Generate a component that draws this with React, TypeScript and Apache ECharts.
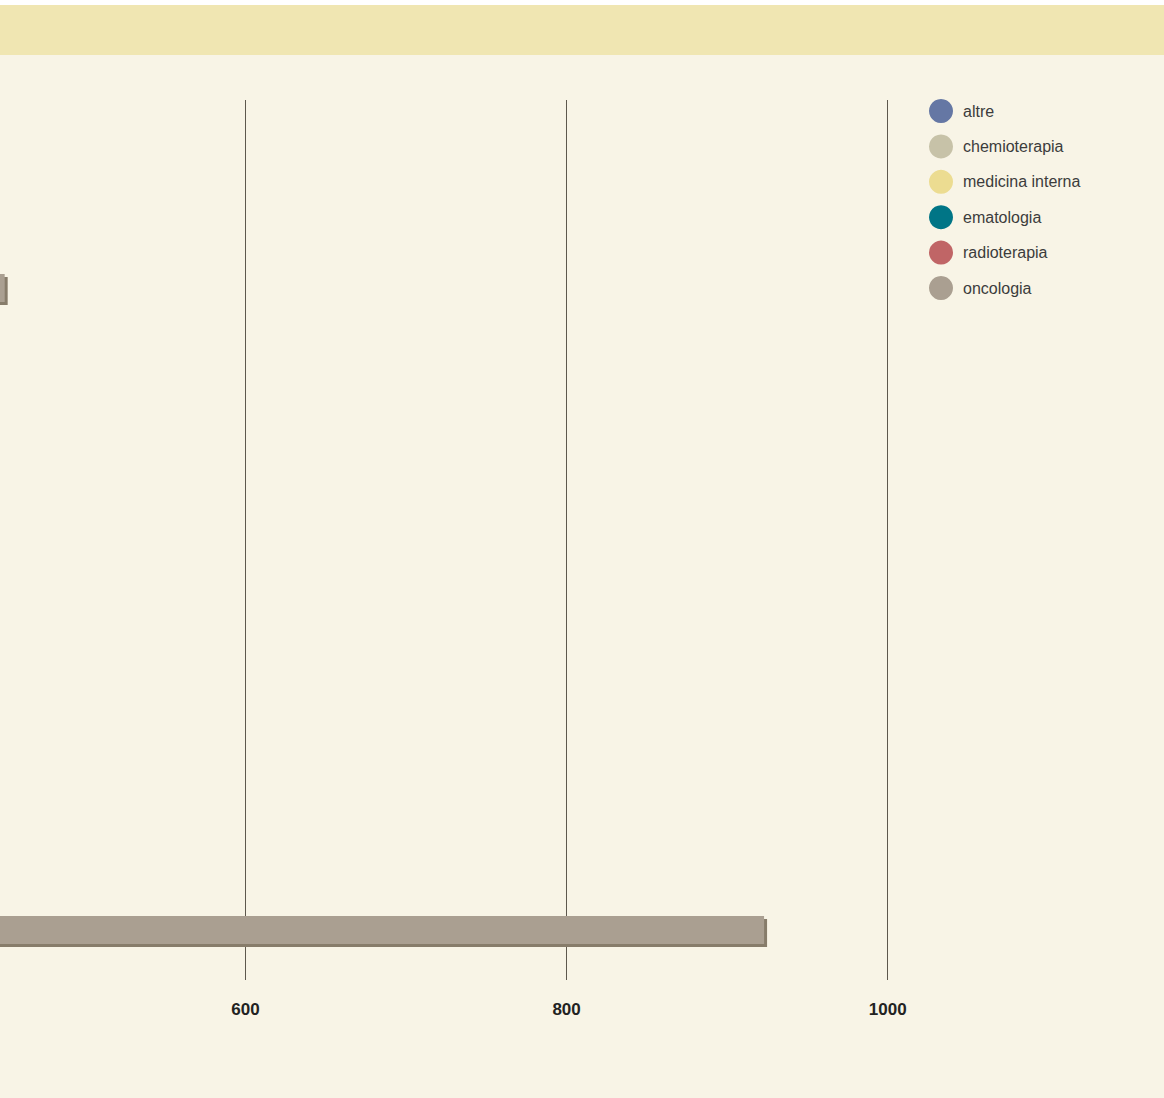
import React, { useEffect, useRef } from "react";
import * as echarts from "echarts";

// Row categories (their labels lie outside the visible crop)
const categories = ["1", "2", "3", "4", "5", "6", "7", "8"];

const seriesNames = ["altre", "chemioterapia", "medicina interna", "ematologia", "radioterapia", "oncologia"];
const seriesColors = ["#6577a4", "#c7c2a8", "#ecdc91", "#007586", "#c06566", "#aa9f91"];

// Only the oncologia bars reach the visible part of the axis
const altre: (number | null)[] = [null, null, null, null, null, null, null, null];
const chemioterapia: (number | null)[] = [null, null, null, null, null, null, null, null];
const medicinaInterna: (number | null)[] = [null, null, null, null, null, null, null, null];
const ematologia: (number | null)[] = [null, null, null, null, null, null, null, null];
const radioterapia: (number | null)[] = [null, null, null, null, null, null, null, null];
const oncologia: (number | null)[] = [null, 450, null, null, null, null, null, 923];

const seriesData = [altre, chemioterapia, medicinaInterna, ematologia, radioterapia, oncologia];

const xMin = 400;
const xMax = 1000;
const xInterval = 200;

const SHIFT = 76; // the chart extends beyond the left edge of the visible crop
const W = 1164 + SHIFT;
const H = 1098;

export default function App() {
  const ref = useRef<HTMLDivElement>(null);

  useEffect(() => {
    if (!ref.current) return;
    const chart = echarts.init(ref.current, undefined, { renderer: "svg" });
    const font = "'Liberation Sans', Arial, sans-serif";
    chart.setOption({
      animation: false,
      backgroundColor: "#f8f4e6",
      textStyle: { fontFamily: font },
      graphic: [
        { type: "rect", left: 0, top: 0, shape: { width: W, height: 5 }, style: { fill: "#ffffff" }, silent: true },
        { type: "rect", left: 0, top: 5, shape: { width: W, height: 50 }, style: { fill: "#f0e6b2" }, silent: true },
      ],
      legend: {
        data: seriesNames,
        orient: "vertical",
        left: 929 + SHIFT,
        top: 99,
        padding: 0,
        icon: "circle",
        itemWidth: 24,
        itemHeight: 24,
        itemGap: 11.4,
        selectedMode: false,
        textStyle: { fontFamily: font, fontSize: 16, color: "#3c3c3c", padding: [0, 0, 0, 5] },
      },
      grid: [
        { left: 0.4, right: 276.3, top: 100, bottom: 118, containLabel: false },
        { left: 0.4, right: 276.3, top: 127.5, height: 856, containLabel: false },
      ],
      xAxis: [
        {
          gridIndex: 0,
          type: "value",
          min: xMin,
          max: xMax,
          interval: xInterval,
          axisLine: { show: false },
          axisTick: { show: false },
          splitLine: { show: true, lineStyle: { color: "#5e584d", width: 1 } },
          axisLabel: {
            showMinLabel: false,
            margin: 21,
            fontFamily: font,
            fontSize: 17,
            fontWeight: "bold",
            color: "#222222",
            formatter: (v: number) => String(v),
          },
        },
        {
          gridIndex: 1,
          type: "value",
          min: xMin,
          max: xMax,
          interval: xInterval,
          show: false,
          splitLine: { show: false },
        },
      ],
      yAxis: [
        { gridIndex: 0, type: "value", show: false, min: 0, max: 1, splitLine: { show: false } },
        {
          gridIndex: 1,
          type: "category",
          data: categories,
          inverse: true,
          show: false,
        },
      ],
      series: seriesNames.map((name, i) => ({
        name,
        type: "bar",
        xAxisIndex: 1,
        yAxisIndex: 1,
        stack: "total",
        barWidth: 28,
        data: seriesData[i],
        itemStyle: {
          color: seriesColors[i],
          shadowColor: "#877b6b",
          shadowBlur: 0,
          shadowOffsetX: 3,
          shadowOffsetY: 3,
        },
      })),
      color: seriesColors,
    });
    return () => chart.dispose();
  }, []);

  return (
    <div style={{ position: "absolute", left: 0, top: 0, width: 1164, height: H, overflow: "hidden" }}>
      <div
        ref={ref}
        style={{ position: "absolute", left: -SHIFT, top: 0, width: W, height: H }}
      />
    </div>
  );
}
